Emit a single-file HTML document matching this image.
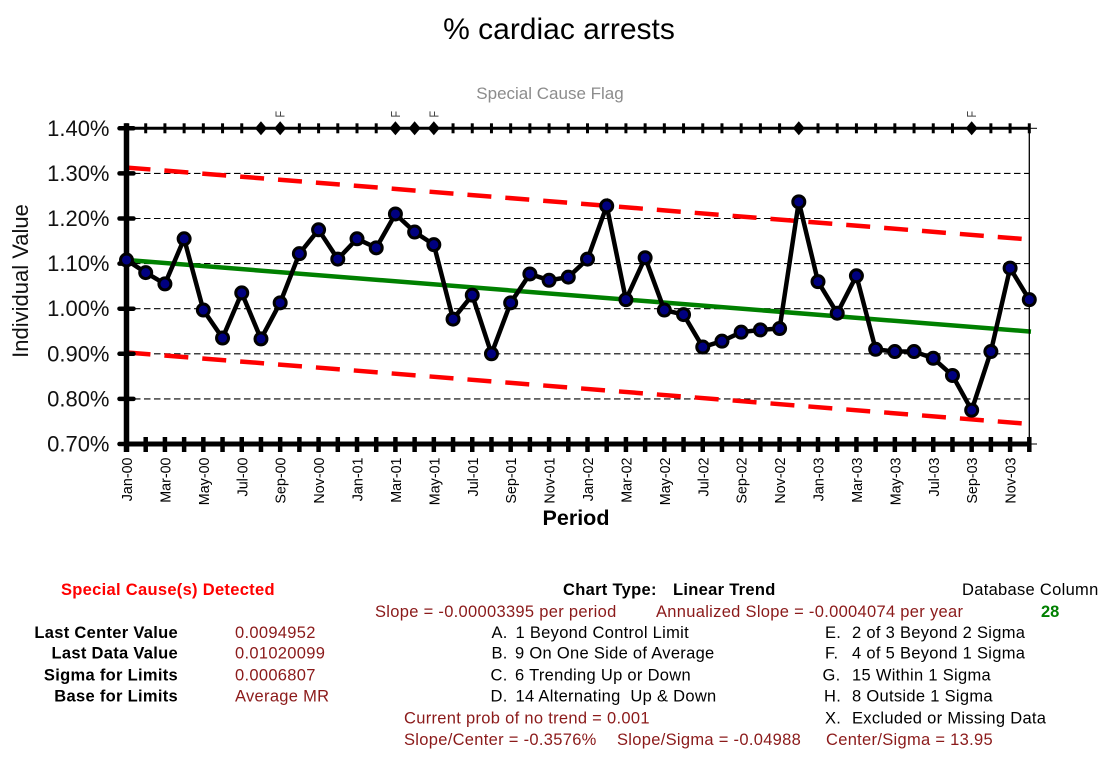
<!DOCTYPE html>
<html lang="en">
<head>
<meta charset="utf-8">
<title>% cardiac arrests</title>
<style>
html,body{margin:0;padding:0;background:#fff;}
svg{display:block;font-family:"Liberation Sans",Arial,sans-serif;}
text{white-space:pre;}
.bl{fill:#000;font-size:16.5px;letter-spacing:.3px;}
.b{font-weight:bold;}
.dr{fill:#8b1a1a;font-size:16.5px;letter-spacing:.3px;}
</style>
</head>
<body>
<svg id="chart" xmlns="http://www.w3.org/2000/svg" width="1116" height="764" viewBox="0 0 1116 764">
<rect x="0" y="0" width="1116" height="764" fill="#fff"/>
<text x="559" y="39" text-anchor="middle" font-size="30" fill="#000">% cardiac arrests</text>
<text x="550" y="99" text-anchor="middle" font-size="17" fill="#8c8c8c">Special Cause Flag</text>
<g id="grid"></g>
<g id="limits"></g>
<g id="axes"></g>
<g id="series"></g>
<g id="flags"></g>
<g id="ylabels"></g>
<g id="xlabels"></g>
<text transform="translate(28,281) rotate(-90)" text-anchor="middle" font-size="22" fill="#111">Individual Value</text>
<text x="576" y="525" text-anchor="middle" font-size="21.5" font-weight="bold" fill="#000">Period</text>

<g>
<text x="61" y="595" font-size="16.5" letter-spacing=".3" font-weight="bold" fill="#ff0000">Special Cause(s) Detected</text>
<text y="595" class="bl b"><tspan x="563">Chart Type:</tspan><tspan x="673">Linear Trend</tspan></text>
<text x="962" y="595" class="bl">Database Column</text>
<text x="1041" y="617" font-size="16.5" font-weight="bold" fill="#008000">28</text>
<text x="375" y="617" class="dr">Slope = -0.00003395 per period</text>
<text x="656" y="617" class="dr">Annualized Slope = -0.0004074 per year</text>

<text x="178" y="638" text-anchor="end" class="bl b">Last Center Value</text>
<text x="178" y="658.5" text-anchor="end" class="bl b">Last Data Value</text>
<text x="178" y="680.5" text-anchor="end" class="bl b">Sigma for Limits</text>
<text x="178" y="701.5" text-anchor="end" class="bl b">Base for Limits</text>
<text x="235" y="638" class="dr">0.0094952</text>
<text x="235" y="658.5" class="dr">0.01020099</text>
<text x="235" y="680.5" class="dr">0.0006807</text>
<text x="235" y="701.5" class="dr">Average MR</text>

<text y="638" class="bl"><tspan x="491.5">A.</tspan><tspan x="515.5">1 Beyond Control Limit</tspan></text>
<text y="658.5" class="bl"><tspan x="491.5">B.</tspan><tspan x="515">9 On One Side of Average</tspan></text>
<text y="680.5" class="bl"><tspan x="490.5">C.</tspan><tspan x="515">6 Trending Up or Down</tspan></text>
<text y="701.5" class="bl"><tspan x="490.5">D.</tspan><tspan x="515.5">14 Alternating  Up &amp; Down</tspan></text>

<text y="638" class="bl"><tspan x="825">E.</tspan><tspan x="852">2 of 3 Beyond 2 Sigma</tspan></text>
<text y="658.5" class="bl"><tspan x="825">F.</tspan><tspan x="852">4 of 5 Beyond 1 Sigma</tspan></text>
<text y="680.5" class="bl"><tspan x="822.5">G.</tspan><tspan x="852">15 Within 1 Sigma</tspan></text>
<text y="701.5" class="bl"><tspan x="824">H.</tspan><tspan x="852">8 Outside 1 Sigma</tspan></text>
<text y="723.5" class="bl"><tspan x="825">X.</tspan><tspan x="852">Excluded or Missing Data</tspan></text>

<text x="404" y="723.5" class="dr">Current prob of no trend = 0.001</text>
<text x="404" y="745" class="dr">Slope/Center = -0.3576%</text>
<text x="617" y="745" class="dr">Slope/Sigma = -0.04988</text>
<text x="826" y="745" class="dr">Center/Sigma = 13.95</text>
</g>
</svg>
<script>
const periods = ["Jan-00","Feb-00","Mar-00","Apr-00","May-00","Jun-00","Jul-00","Aug-00","Sep-00","Oct-00","Nov-00","Dec-00",
"Jan-01","Feb-01","Mar-01","Apr-01","May-01","Jun-01","Jul-01","Aug-01","Sep-01","Oct-01","Nov-01","Dec-01",
"Jan-02","Feb-02","Mar-02","Apr-02","May-02","Jun-02","Jul-02","Aug-02","Sep-02","Oct-02","Nov-02","Dec-02",
"Jan-03","Feb-03","Mar-03","Apr-03","May-03","Jun-03","Jul-03","Aug-03","Sep-03","Oct-03","Nov-03","Dec-03"];
const individualValues = [1.108,1.080,1.055,1.155,0.997,0.935,1.035,0.933,1.013,1.122,1.175,1.110,
1.155,1.135,1.210,1.170,1.142,0.977,1.030,0.900,1.013,1.077,1.063,1.070,
1.110,1.228,1.020,1.113,0.997,0.987,0.915,0.928,0.948,0.953,0.956,1.237,
1.060,0.990,1.073,0.910,0.905,0.905,0.890,0.852,0.775,0.905,1.090,1.020];
const centerEnds = [1.108,0.9495];
const upperEnds = [1.313,1.1535];
const lowerEnds = [0.903,0.7445];
const yTicks = [1.4,1.3,1.2,1.1,1.0,0.9,0.8,0.7];
const yTickLabels = ["1.40%","1.30%","1.20%","1.10%","1.00%","0.90%","0.80%","0.70%"];
const flagPeriods = ["Aug-00","Sep-00","Mar-01","Apr-01","May-01","Dec-02","Sep-03"];
const flagLetterPeriods = ["Sep-00","Mar-01","May-01","Sep-03"];

const NS = "http://www.w3.org/2000/svg";
function xAt(i){ return 126.5 + i * (1029.3 - 126.5) / 47; }
function yAt(v){ return 444 - (v - 0.7) * (444 - 128.3) / 0.7; }
function make(tag, parent, attrs){
  const el = document.createElementNS(NS, tag);
  for (const k in attrs) el.setAttribute(k, attrs[k]);
  parent.appendChild(el);
  return el;
}
const grid = document.getElementById('grid');
const limits = document.getElementById('limits');
const axes = document.getElementById('axes');
const series = document.getElementById('series');
const flags = document.getElementById('flags');
const ylabels = document.getElementById('ylabels');
const xlabels = document.getElementById('xlabels');
const lastI = periods.length - 1;

yTicks.forEach(function(v, i){
  if (v === 1.4 || v === 0.7) return;
  const g = make('line', grid, {x1:134, x2:1029, y1:yAt(v), y2:yAt(v), stroke:'#000', 'stroke-width':1.1, 'stroke-dasharray':'6.5 3.5'});
  
  
});

function trend(ends, name, color, width, dash, x2){
  const t = (x2 - xAt(0)) / (xAt(lastI) - xAt(0));
  const attrs = {x1:xAt(0), x2:x2, y1:yAt(ends[0]), y2:yAt(ends[0] + (ends[1] - ends[0]) * t), stroke:color, 'stroke-width':width};
  if (dash) attrs['stroke-dasharray'] = dash;
  const l = make('line', limits, attrs);
  
  
}
trend(upperEnds, 'upper-control-limit', '#ff0000', 4.5, '24 14', 1024);
trend(lowerEnds, 'lower-control-limit', '#ff0000', 4.5, '24 14', 1024);
trend(centerEnds, 'center-trend-line', '#008000', 4.5, null, 1031);

const rightEdge = make('line', axes, {x1:1029.3, x2:1029.3, y1:yAt(1.4), y2:yAt(0.7), stroke:'#000', 'stroke-width':1.3});


const rt = make('line', axes, {x1:1029, x2:1037, y1:yAt(1.4), y2:yAt(1.4), stroke:'#000', 'stroke-width':1});


const rb = make('line', axes, {x1:1029, x2:1037, y1:yAt(0.7), y2:yAt(0.7), stroke:'#000', 'stroke-width':1});


const topLine = make('line', axes, {x1:xAt(0), x2:1029.3, y1:yAt(1.4), y2:yAt(1.4), stroke:'#000', 'stroke-width':3});


const bottomLine = make('line', axes, {x1:xAt(0), x2:1029.3, y1:yAt(0.7), y2:yAt(0.7), stroke:'#000', 'stroke-width':5});


const leftLine = make('line', axes, {x1:xAt(0), x2:xAt(0), y1:yAt(1.4)-5, y2:yAt(0.7)+8, stroke:'#000', 'stroke-width':5.5});



periods.forEach(function(p, i){
  const x = xAt(i);
  const t1 = make('line', axes, {x1:x, x2:x, y1:yAt(1.4)-5, y2:yAt(1.4)+5, stroke:'#000', 'stroke-width':3});
  
  
  const t2 = make('line', axes, {x1:x, x2:x, y1:yAt(0.7)-7, y2:yAt(0.7)+8, stroke:'#000', 'stroke-width':4.5});
  
  
  if (i % 2 === 0) {
    const tx = make('text', xlabels, {transform:'translate(' + (x + 5.5) + ',457.5) rotate(-90)', 'text-anchor':'end', 'font-size':14.3, fill:'#000'});
    tx.textContent = p;
    
    
  }
});

yTicks.forEach(function(v, i){
  const y = yAt(v);
  const t = make('line', axes, {x1:119.5, x2:133.5, y1:y, y2:y, stroke:'#000', 'stroke-width':4.5, 'stroke-linecap':'round'});
  
  
  const lab = make('text', ylabels, {x:109.5, y:y + 7.5, 'text-anchor':'end', 'font-size':22, fill:'#111'});
  lab.textContent = yTickLabels[i];
  
  
});

flagPeriods.forEach(function(p){
  const x = xAt(periods.indexOf(p));
  const y = yAt(1.4);
  const d = make('polygon', flags, {points:(x-6)+','+y+' '+x+','+(y-7)+' '+(x+6)+','+y+' '+x+','+(y+7), fill:'#000'});
  
  
});
flagLetterPeriods.forEach(function(p){
  const x = xAt(periods.indexOf(p));
  const f = make('text', flags, {transform:'translate(' + (x + 4.5) + ',117.5) rotate(-90)', 'font-size':12.5, fill:'#444', textLength:6.5, lengthAdjust:'spacingAndGlyphs'});
  f.textContent = 'F';
  
  
});

const pts = individualValues.map(function(v, i){ return xAt(i) + ',' + yAt(v); }).join(' ');
const line = make('polyline', series, {points:pts, fill:'none', stroke:'#000', 'stroke-width':4.5, 'stroke-linejoin':'miter'});


individualValues.forEach(function(v, i){
  const c = make('circle', series, {cx:xAt(i), cy:yAt(v), r:6, fill:'#000080', stroke:'#000', 'stroke-width':3});
  
  
});
</script>
</body>
</html>
